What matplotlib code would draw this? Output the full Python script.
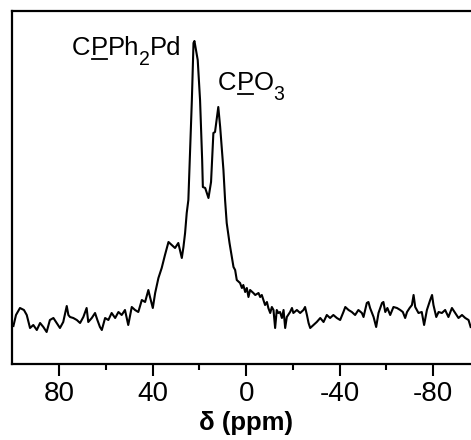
import numpy as np
import matplotlib
matplotlib.use("Agg")
import matplotlib.pyplot as plt
from matplotlib.transforms import offset_copy, IdentityTransform
from matplotlib.lines import Line2D

plt.rcParams['font.family'] = ['Liberation Sans', 'DejaVu Sans']

# 31P spectrum: chemical shift (ppm) and intensity (arb. units)
shift = [99.5, 98.4, 96.7, 95.0, 93.8, 92.4, 91.0, 89.5, 88.1, 86.7,
         85.3, 83.9, 82.4, 81.0, 79.6, 78.2, 76.7, 76.0, 75.3, 73.9,
         72.4, 71.0, 69.6, 68.2, 67.5, 66.0, 64.6, 63.6, 62.5, 61.7,
         60.3, 58.9, 57.5, 56.0, 54.6, 53.2, 51.8, 50.4, 48.9, 47.5,
         46.1, 44.6, 43.2, 41.8, 41.1, 39.9, 38.9, 37.5, 36.1, 34.7,
         33.2, 31.8, 30.4, 29.0, 27.5, 26.8, 26.1, 25.4, 24.7, 23.2,
         22.5, 22.1, 20.7, 19.7, 18.8, 18.5, 17.5, 16.1, 15.0, 14.0,
         13.3, 11.9, 11.1, 9.7, 9.0, 8.3, 7.1, 6.1, 5.4, 4.7,
         4.0, 2.6, 1.8, 1.2, 0.4, -0.3, -1.0, -1.7, -3.1, -3.9,
         -5.3, -6.0, -6.7, -7.4, -8.1, -8.9, -9.5, -10.3, -11.0, -11.7,
         -12.4, -13.1, -13.8, -14.5, -15.3, -16.0, -16.7, -17.4, -18.8, -19.6,
         -20.2, -21.7, -23.1, -24.5, -25.2, -26.0, -26.7, -27.4, -28.8, -30.2,
         -31.7, -33.1, -34.5, -35.9, -37.3, -38.8, -40.2, -41.6, -42.4, -43.8,
         -45.2, -46.6, -48.0, -49.5, -50.2, -51.6, -52.3, -53.0, -54.5, -55.6,
         -56.6, -58.1, -58.7, -59.5, -60.4, -61.6, -63.0, -64.5, -65.9, -67.0,
         -68.0, -68.8, -69.9, -70.9, -71.6, -72.3, -73.7, -75.1, -76.1, -77.3,
         -78.7, -79.5, -80.1, -81.3, -82.3, -83.7, -85.1, -86.5, -88.0, -89.4,
         -90.8, -92.3, -93.7, -95.1, -96.0]
intensity = [38, 49, 56, 54, 49, 36, 39, 34, 41, 37,
             32, 44, 46, 41, 36, 42, 58, 49, 47, 46,
             44, 41, 47, 56, 42, 46, 51, 44, 37, 34,
             46, 44, 51, 46, 52, 49, 54, 39, 57, 54,
             52, 64, 62, 74, 67, 56, 71, 86, 96, 109,
             122, 119, 116, 121, 106, 117, 131, 151, 164, 264,
             321, 323, 304, 264, 204, 177, 176, 166, 182, 231,
             232, 257, 237, 194, 164, 141, 121, 107, 97, 94,
             84, 81, 76, 79, 72, 76, 67, 74, 71, 69,
             71, 67, 69, 64, 59, 62, 56, 51, 57, 54,
             36, 54, 51, 52, 46, 54, 36, 47, 52, 56,
             51, 54, 51, 54, 57, 49, 41, 36, 39, 42,
             46, 42, 49, 46, 49, 46, 44, 52, 57, 54,
             52, 49, 54, 51, 47, 61, 62, 56, 47, 37,
             51, 61, 62, 52, 56, 49, 57, 56, 54, 52,
             46, 52, 56, 59, 69, 57, 51, 52, 39, 54,
             64, 69, 59, 47, 52, 51, 54, 47, 56, 51,
             46, 49, 46, 44, 37]

major_ticks = [80, 40, 0, -40, -80]
minor_ticks = [60, 20, -20, -60]

fig = plt.figure(figsize=(4.71, 4.40), dpi=100)
ax = fig.add_axes([12.25 / 471, 76 / 440, 467.75 / 471, 353 / 440])
ax.plot(shift, intensity, color='black', lw=1.5)
ax.set_xlim(100, -100)
ax.set_ylim(0, 353)

ax.set_xticks(major_ticks)
ax.set_xticklabels([str(t) for t in major_ticks])
ax.set_xticks(minor_ticks, minor=True)
ax.set_yticks([])
ax.tick_params(axis='x', which='major', direction='out', length=8.4, width=1.5,
               labelsize=20, pad=4)
ax.tick_params(axis='x', which='minor', direction='out', length=4, width=1.5)
for side in ['left', 'bottom', 'top']:
    ax.spines[side].set_linewidth(1.6)
ax.spines['right'].set_visible(False)
ax.set_xlabel('δ (ppm)', fontsize=18.5, fontweight='bold', labelpad=3)

renderer = fig.canvas.get_renderer()


def peak_label(x, y, parts, size):
    # write text pieces one after another, P underlined, digits as subscript
    dx = 0.0
    for s, kind in parts:
        fs = size * 0.76 if kind == 's' else size
        dy = -0.38 * size if kind == 's' else 0
        tr = offset_copy(ax.transData, fig=fig, x=dx, y=dy, units='points')
        t = ax.text(x, y, s, transform=tr, fontsize=fs, va='baseline', ha='left')
        bb = t.get_window_extent(renderer)
        if kind == 'u':
            yb = bb.y0 + (bb.height * 0.05)
            fig.add_artist(Line2D([bb.x0 + 1, bb.x1 - 1], [yb, yb], color='black',
                                  lw=1.3, transform=IdentityTransform()))
        dx += bb.width * 72 / fig.dpi


peak_label(74.4, 309, [('C', 'n'), ('P', 'u'), ('Ph', 'n'), ('2', 's'), ('Pd', 'n')], 18.5)
peak_label(12.0, 274, [('C', 'n'), ('P', 'u'), ('O', 'n'), ('3', 's')], 18.5)

fig.savefig('out.png', dpi=100)
